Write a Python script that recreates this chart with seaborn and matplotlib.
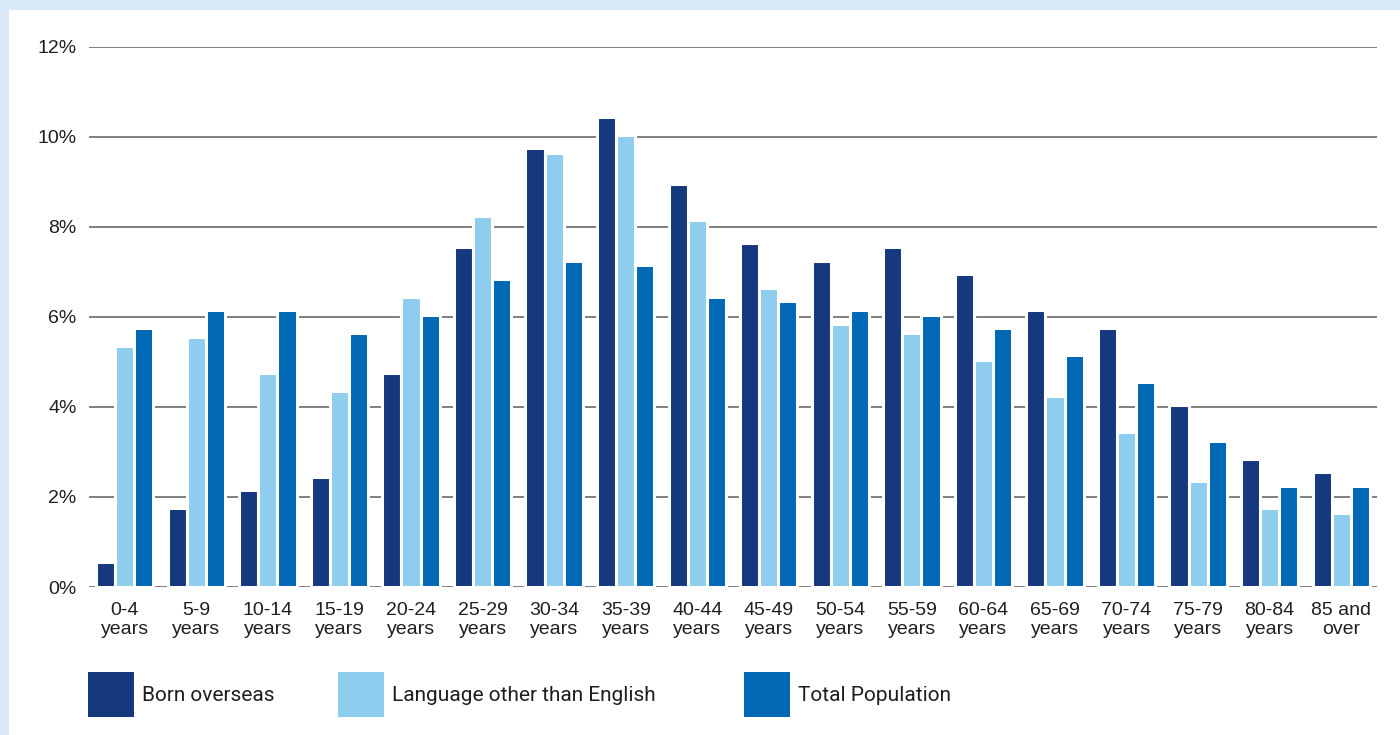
import matplotlib
matplotlib.use("Agg")
import matplotlib.pyplot as plt
from matplotlib.patches import Rectangle
import seaborn as sns
import pandas as pd

age_groups = ["0-4\nyears", "5-9\nyears", "10-14\nyears", "15-19\nyears", "20-24\nyears",
              "25-29\nyears", "30-34\nyears", "35-39\nyears", "40-44\nyears", "45-49\nyears",
              "50-54\nyears", "55-59\nyears", "60-64\nyears", "65-69\nyears", "70-74\nyears",
              "75-79\nyears", "80-84\nyears", "85 and\nover"]
born_overseas = [0.55, 1.75, 2.15, 2.45, 4.75, 7.55, 9.75, 10.45, 8.95, 7.65,
                 7.25, 7.55, 6.95, 6.15, 5.75, 4.05, 2.85, 2.55]
language_other = [5.35, 5.55, 4.75, 4.35, 6.45, 8.25, 9.65, 10.05, 8.15, 6.65,
                  5.85, 5.65, 5.05, 4.25, 3.45, 2.35, 1.75, 1.65]
total_population = [5.75, 6.15, 6.15, 5.65, 6.05, 6.85, 7.25, 7.15, 6.45, 6.35,
                    6.15, 6.05, 5.75, 5.15, 4.55, 3.25, 2.25, 2.25]
series_names = ["Born overseas", "Language other than English", "Total Population"]
series_colors = ["#15387f", "#8fcdef", "#0068b4"]
y_ticks = [0, 2, 4, 6, 8, 10, 12]

df = pd.DataFrame({
    "age": age_groups * 3,
    "value": born_overseas + language_other + total_population,
    "series": [series_names[0]] * 18 + [series_names[1]] * 18 + [series_names[2]] * 18,
})

sns.set_theme(style="white")
plt.rcParams["font.family"] = ["Liberation Sans", "DejaVu Sans"]

fig = plt.figure(figsize=(14, 7.35), dpi=100, facecolor="#d9e9f7")
fig.patches.append(Rectangle((9 / 1400, 0), 1, 1 - 10 / 735, transform=fig.transFigure,
                             facecolor="white", edgecolor="none", zorder=-10))
ax = fig.add_axes([89 / 1400, 1 - 587 / 735, (1377 - 89) / 1400, (587 - 47) / 735])
ax.set_facecolor("none")
ax.set_zorder(2)

sns.barplot(data=df, x="age", y="value", hue="series", hue_order=series_names,
            palette=series_colors, width=0.8, edgecolor="white", linewidth=2.2,
            saturation=1, ax=ax, legend=True, err_kws={"linewidth": 0})

ax.set_xlim(-0.5, 17.5)
ax.set_ylim(0, 12)
ax.set_yticks(y_ticks)
ax.set_yticklabels([f"{t}%" for t in y_ticks])
ax.set_xlabel("")
ax.set_ylabel("")
for s in ax.spines.values():
    s.set_visible(False)
ax.yaxis.grid(True, color="#5e5e5e", linewidth=1.1)
ax.set_axisbelow(True)
ax.tick_params(axis="y", length=0, pad=9, labelsize=14, labelcolor="#1f1f1f")
ax.tick_params(axis="x", length=0, pad=11, labelsize=14, labelcolor="#1f1f1f")
for lab in ax.get_xticklabels():
    lab.set_linespacing(1.12)

handles, labels = ax.get_legend_handles_labels()
ax.get_legend().remove()
legend_x = [88, 338, 744]
for h, l, x in zip(handles, labels, legend_x):
    leg = fig.legend([h], [l], loc="upper left", bbox_to_anchor=(x / 1400, 1 - 672 / 735),
                     frameon=False, borderpad=0, borderaxespad=0,
                     handlelength=2.2, handleheight=2.95, handletextpad=0.4,
                     prop={"family": "Roboto", "size": 15})
    for t in leg.get_texts():
        t.set_color("#1f1f1f")
    for lh in leg.legend_handles:
        lh.set_edgecolor("none")

fig.savefig("out.png", dpi=100, facecolor=fig.get_facecolor())
